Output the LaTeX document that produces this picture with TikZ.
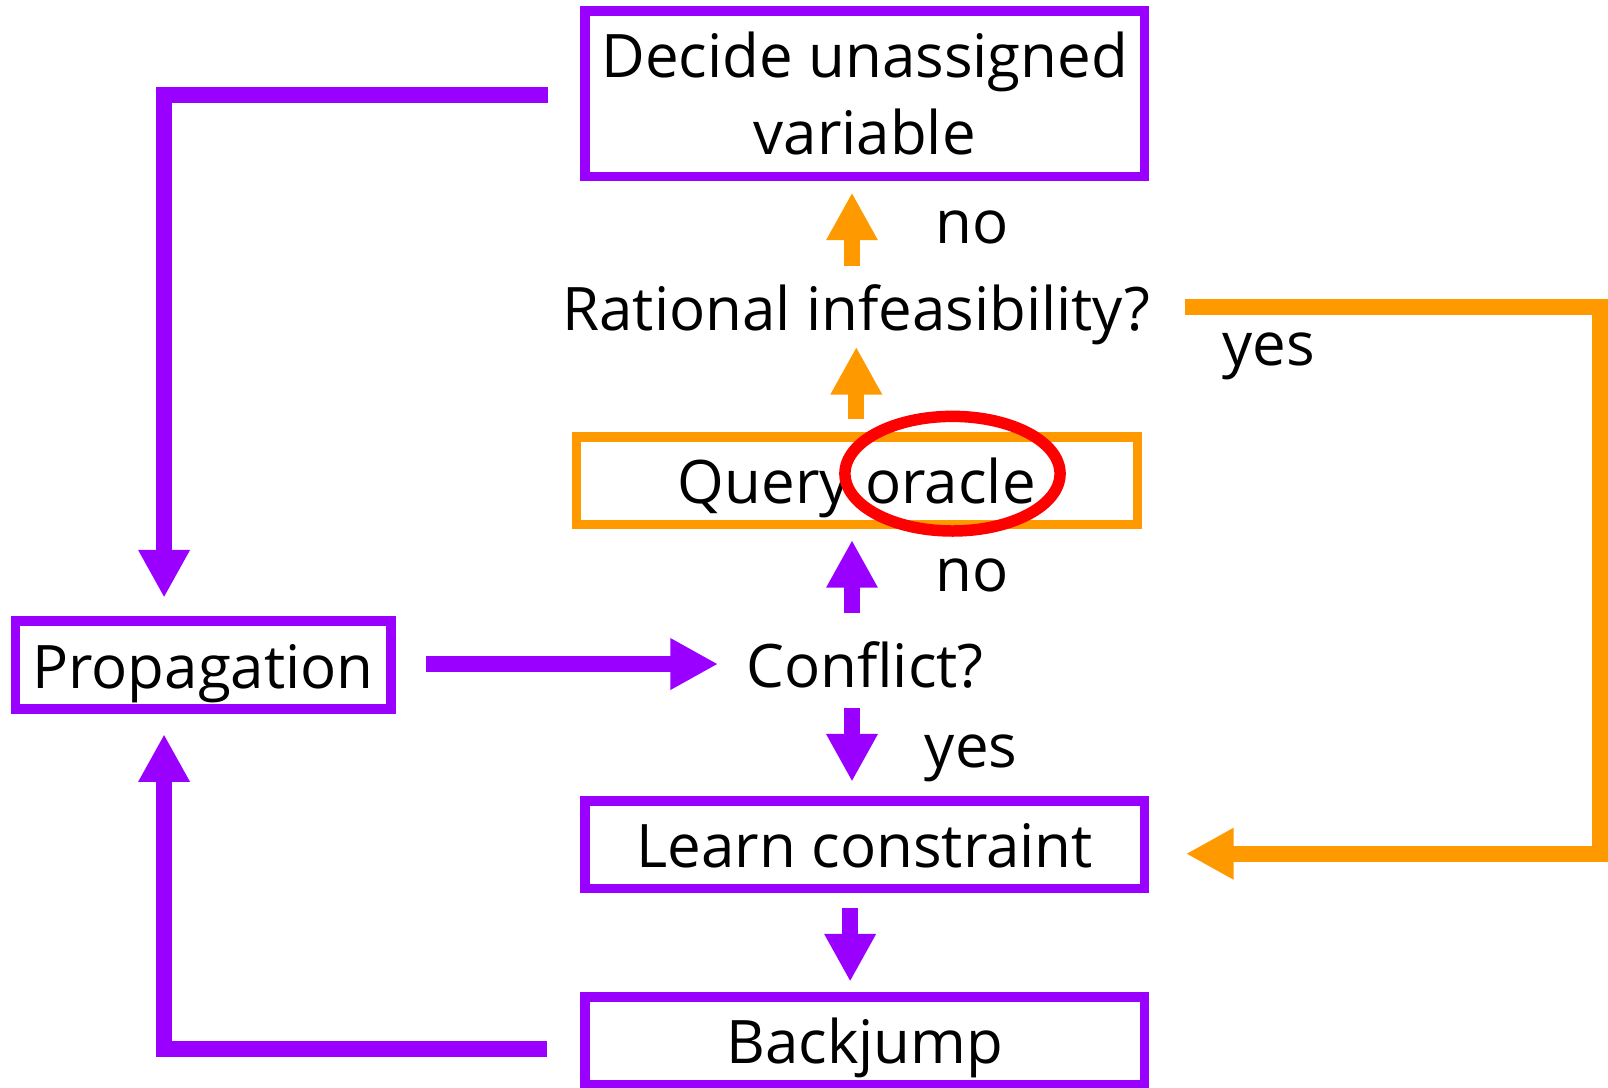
\documentclass[tikz,border=0pt]{standalone}
\usepackage{fontspec}
\setmainfont{Open Sans}
\usetikzlibrary{arrows.meta}
\definecolor{vio}{RGB}{153,0,255}
\definecolor{org}{RGB}{255,153,0}
\definecolor{rd}{RGB}{255,0,0}
\begin{document}
\begin{tikzpicture}[x=1pt,y=-1pt,
  txt/.style={font=\fontsize{58.5}{75}\selectfont, inner sep=0pt, text=black},
  line1/.style={txt, text height=60pt, text depth=15pt},
  pbox/.style={draw=vio, line width=9.4pt, align=center},
  obox/.style={draw=org, line width=9.3pt, align=center},
  parr/.style={draw=vio, line width=15.6pt, line join=miter,
    -{Triangle[length=46.5pt,width=47pt]}},
  oarr/.style={draw=org, line width=15.6pt, line join=miter,
    -{Triangle[length=46.5pt,width=47pt]}}]
\useasboundingbox (0,0) rectangle (1568,1060);

% boxes
\node[txt, pbox, minimum width=545.5pt, minimum height=161.5pt] (top) at (843.25,91.5)
  {Decide unassigned\\variable};
\node[line1, obox, minimum width=547pt, minimum height=85.5pt] (qo) at (835.5,468.9) {Query oracle};
\node[line1, pbox, minimum width=366pt, minimum height=86pt] (prop) at (198,648.5) {Propagation};
\node[line1, pbox, minimum width=545.5pt, minimum height=85.5pt] (lc) at (843.25,823.75) {Learn constraint};
\node[line1, pbox, minimum width=545.5pt, minimum height=85.5pt] (bj) at (843.25,1015) {Backjump};

% questions and answers
\node[line1, anchor=base] (rat) at (835,322) {Rational infeasibility?};
\node[line1, anchor=base] (conf) at (843.5,670) {Conflict?};
\node[line1, anchor=base] (no1) at (948,237) {no};
\node[line1, anchor=base] (no2) at (948,577) {no};
\node[line1, anchor=base] (yes1) at (947,748) {yes};
\node[line1, anchor=base] (yes2) at (1237,356) {yes};

% vertical axes of the connectors
\coordinate (ax1) at (830.8,0);
\coordinate (ax2) at (835,0);
\coordinate (ax3) at (829,0);
\coordinate (lx) at (160,0);
\coordinate (rx) at (1560,0);

% connectors
\draw[oarr, shorten <=2.6pt, shorten >=10.8pt] (rat.north -| ax1) -- (top.south -| ax1);
\draw[oarr, shorten <=12.6pt, shorten >=1pt] (qo.north -| ax2) -- (rat.south -| ax2);
\draw[parr, shorten <=12pt, shorten >=10.3pt] (conf.north -| ax1) -- (qo.south -| ax1);
\draw[parr, shorten <=29.4pt, shorten >=27.5pt] (prop.east |- conf.west) -- (conf.west);
\draw[parr, shorten <=5.4pt, shorten >=14.1pt] (conf.south -| ax1) -- (lc.north -| ax1);
\draw[parr, shorten <=14.3pt, shorten >=10.3pt] (lc.south -| ax3) -- (bj.north -| ax3);
\draw[parr, shorten <=32pt, shorten >=19.7pt] ([yshift=-8pt]bj.west) -| (prop.south -| lx);
\draw[parr, shorten <=31.6pt, shorten >=18pt] ([yshift=-1.5pt]top.west) -| (prop.north -| lx);
\draw[oarr, shorten <=34pt, shorten >=35.7pt] (rat.east) -- (rat.east -| rx) |- ([yshift=-8.75pt]lc.east);

% highlight round the word oracle
\draw[rd, line width=11.2pt] (928.8,461.9) ellipse [x radius=104.9pt, y radius=55.9pt];
\end{tikzpicture}
\end{document}
